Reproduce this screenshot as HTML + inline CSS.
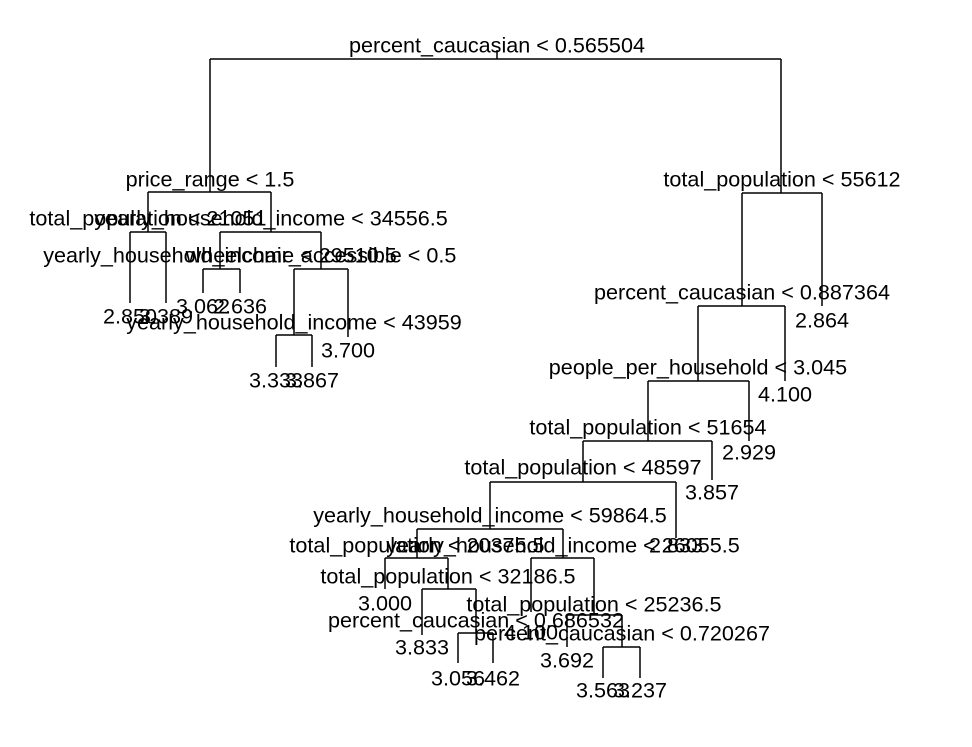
<!DOCTYPE html>
<html><head><style>html,body{margin:0;background:#fff}svg{display:block}</style></head><body>
<svg width="972" height="747" xmlns="http://www.w3.org/2000/svg">
<g stroke="#000" stroke-width="1.5" fill="none">
<path d="M497 50V59M210 59H781M210 59V192M781 59V193"/>
<path d="M148 192H271M148 192V232M271 192V232"/>
<path d="M130 232H166M130 232V303M166 232V303"/>
<path d="M220 232H321M220 232V269M321 232V269"/>
<path d="M203 269H240M203 269V293M240 269V293"/>
<path d="M294 269H348M348 269V337M294 269V335M276 335H312M276 335V367M312 335V367"/>
<path d="M742 193H822M822 193V306M742 193V306M698 306H785M785 306V381M698 306V381"/>
<path d="M648 381H749M749 381V441M648 381V441M583 441H712M712 441V480M583 441V482"/>
<path d="M490 482H676M676 482V538M490 482V529M417 529H563M417 529V558M563 529V558"/>
<path d="M385 558H448M385 558V589M448 558V589M422 589H476M422 589V635M476 589V633M458 633H493M458 633V663M493 633V663"/>
<path d="M531 558H594M531 558V612M594 558V615M567 615H622M567 615V647M622 615V647M603 647H640M603 647V678M640 647V678"/>
</g>
<g font-family="Liberation Sans, Arial, sans-serif" font-size="21.6" fill="#000" text-anchor="middle" dominant-baseline="central">
<text x="497" y="45">percent_caucasian &lt; 0.565504</text>
<text x="210" y="179">price_range &lt; 1.5</text>
<text x="148" y="218">total_population &lt; 21051</text>
<text x="271" y="218">yearly_household_income &lt; 34556.5</text>
<text x="220" y="255">yearly_household_income &lt; 29510.5</text>
<text x="321" y="255">wheelchair_accessible &lt; 0.5</text>
<text x="130" y="316">2.850</text>
<text x="166" y="316">3.389</text>
<text x="203" y="306">3.062</text>
<text x="240" y="306">2.636</text>
<text x="294" y="322">yearly_household_income &lt; 43959</text>
<text x="348" y="350">3.700</text>
<text x="276" y="380">3.333</text>
<text x="312" y="380">3.867</text>
<text x="782" y="179">total_population &lt; 55612</text>
<text x="742" y="292">percent_caucasian &lt; 0.887364</text>
<text x="822" y="320">2.864</text>
<text x="698" y="367">people_per_household &lt; 3.045</text>
<text x="785" y="394">4.100</text>
<text x="648" y="427">total_population &lt; 51654</text>
<text x="749" y="452">2.929</text>
<text x="583" y="467">total_population &lt; 48597</text>
<text x="712" y="492">3.857</text>
<text x="490" y="515">yearly_household_income &lt; 59864.5</text>
<text x="676" y="545">2.833</text>
<text x="417" y="545">total_population &lt; 20375.5</text>
<text x="563" y="545">yearly_household_income &lt; 26055.5</text>
<text x="448" y="576">total_population &lt; 32186.5</text>
<text x="385" y="603">3.000</text>
<text x="594" y="604">total_population &lt; 25236.5</text>
<text x="476" y="620">percent_caucasian &lt; 0.686532</text>
<text x="531" y="632">4.100</text>
<text x="622" y="633">percent_caucasian &lt; 0.720267</text>
<text x="422" y="647">3.833</text>
<text x="567" y="660">3.692</text>
<text x="458" y="678">3.056</text>
<text x="493" y="678">3.462</text>
<text x="603" y="690">3.563</text>
<text x="640" y="690">3.237</text>
</g>
</svg>
</body></html>
